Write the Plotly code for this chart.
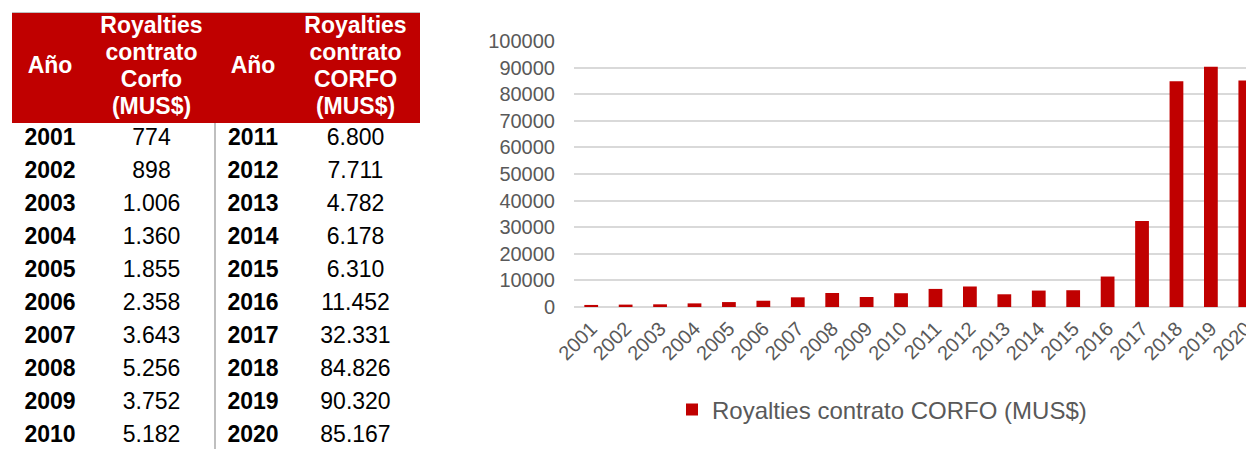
import plotly.graph_objects as go

# screen size; the page margin is removed by a small post script
SW, SH = 1246, 449
W, H = SW, SH


def px(x):  # screen x -> paper fraction
    return x / W


def py(y):  # screen y -> paper fraction
    return 1 - y / H


years = [str(y) for y in range(2001, 2021)]
royalties = [774, 898, 1006, 1360, 1855, 2358, 3643, 5256, 3752, 5182,
             6800, 7711, 4782, 6178, 6310, 11452, 32331, 84826, 90320, 85167]

series_name = "Royalties contrato CORFO (MUS$)"
header_left = ["Royalties", "contrato", "Corfo", "(MUS$)"]
header_right = ["Royalties", "contrato", "CORFO", "(MUS$)"]
year_header = "Año"
y_ticks = list(range(0, 100001, 10000))

RED = "#C00000"
GRAY_TXT = "#595959"
FONT = "Liberation Sans, Arial, sans-serif"


def fmt(v):
    return f"{v:,}".replace(",", ".")


# ---- table layout (in pixel-like units of its own axes) ----
tab_left, tab_right, tab_top = 12, 420, 12
tab_w = tab_right - tab_left
tab_h = SH - tab_top
col_w = [76, 127, 76, 129]
header_h = 111
row_h = 33
line_gap = 27

edges = [0]
for w in col_w:
    edges.append(edges[-1] + w)
centers = [(edges[i] + edges[i + 1]) / 2 for i in range(4)]

columns = [
    ["<b>" + y + "</b>" for y in years[:10]],
    [fmt(v) for v in royalties[:10]],
    ["<b>" + y + "</b>" for y in years[10:]],
    [fmt(v) for v in royalties[10:]],
]

bx, by, bt = [], [], []
for c, col in enumerate(columns):
    for r, txt in enumerate(col):
        bx.append(centers[c])
        by.append(header_h + row_h * (r + 0.5))
        bt.append(txt)

hx, hy, ht = [], [], []
for c in (0, 2):
    hx.append(centers[c]); hy.append(header_h / 2); ht.append("<b>" + year_header + "</b>")
for c, lines in ((1, header_left), (3, header_right)):
    n = len(lines)
    for i, ln in enumerate(lines):
        hx.append(centers[c])
        hy.append(header_h / 2 + (i - (n - 1) / 2) * line_gap)
        ht.append("<b>" + ln + "</b>")

fig = go.Figure()

fig.add_trace(go.Scatter(
    x=bx, y=by, text=bt, mode="text", xaxis="x2", yaxis="y2",
    textposition="middle center", cliponaxis=False, showlegend=False,
    textfont=dict(family=FONT, size=23, color="black"), hoverinfo="skip",
))
fig.add_trace(go.Scatter(
    x=hx, y=hy, text=ht, mode="text", xaxis="x2", yaxis="y2",
    textposition="middle center", cliponaxis=False, showlegend=False,
    textfont=dict(family=FONT, size=23, color="white"), hoverinfo="skip",
))

fig.add_trace(go.Bar(
    x=years, y=royalties, name=series_name,
    marker=dict(color=RED, line=dict(width=0)),
    showlegend=True,
))

# header background
fig.add_shape(type="rect", xref="x2", yref="y2", x0=0, x1=tab_w, y0=1, y1=header_h,
              fillcolor=RED, line=dict(width=0), layer="below")
# header top gray rule
fig.add_shape(type="line", xref="x2", yref="y2", x0=0, x1=tab_w, y0=0, y1=0,
              line=dict(color="#BFBFBF", width=2))
# vertical separator in body
fig.add_shape(type="line", xref="x2", yref="y2", x0=edges[2], x1=edges[2],
              y0=header_h, y1=tab_h, line=dict(color="#BFBFBF", width=2))

fig.update_layout(
    width=W, height=H,
    margin=dict(l=0, r=0, t=0, b=0, autoexpand=False),
    paper_bgcolor="white", plot_bgcolor="white",
    font=dict(family=FONT, color=GRAY_TXT),
    bargap=0.6,
    xaxis=dict(
        type="category", domain=[px(574), 1.0], range=[-0.5, 19.02],
        tickangle=-45, tickfont=dict(size=20, color=GRAY_TXT),
        showgrid=False, showline=False, ticks="", automargin=False,
        ticklabelstandoff=5, anchor="y",
    ),
    yaxis=dict(
        domain=[py(307), py(41)], range=[0, 100000],
        tickvals=y_ticks, tickformat="d",
        tickfont=dict(size=20, color=GRAY_TXT),
        showgrid=True, gridcolor="#D9D9D9", gridwidth=1.5,
        zeroline=True, zerolinecolor="#D9D9D9", zerolinewidth=1.5,
        showline=False, ticks="", ticklabelstandoff=18, automargin=False,
        anchor="x",
    ),
    xaxis2=dict(domain=[px(tab_left), px(tab_right)], range=[0, tab_w],
                visible=False, fixedrange=True, anchor="y2"),
    yaxis2=dict(domain=[0, py(tab_top)], range=[tab_h, 0],
                visible=False, fixedrange=True, anchor="x2"),
    legend=dict(
        orientation="h", x=px(882), xanchor="center",
        yref="paper", y=py(410), yanchor="middle",
        font=dict(size=24, color=GRAY_TXT),
        itemwidth=30,
    ),
)

fig.write_html(
    "out.html",
    config={"displayModeBar": False},
    post_script="document.body.style.margin='0';document.body.style.overflow='hidden';",
)
